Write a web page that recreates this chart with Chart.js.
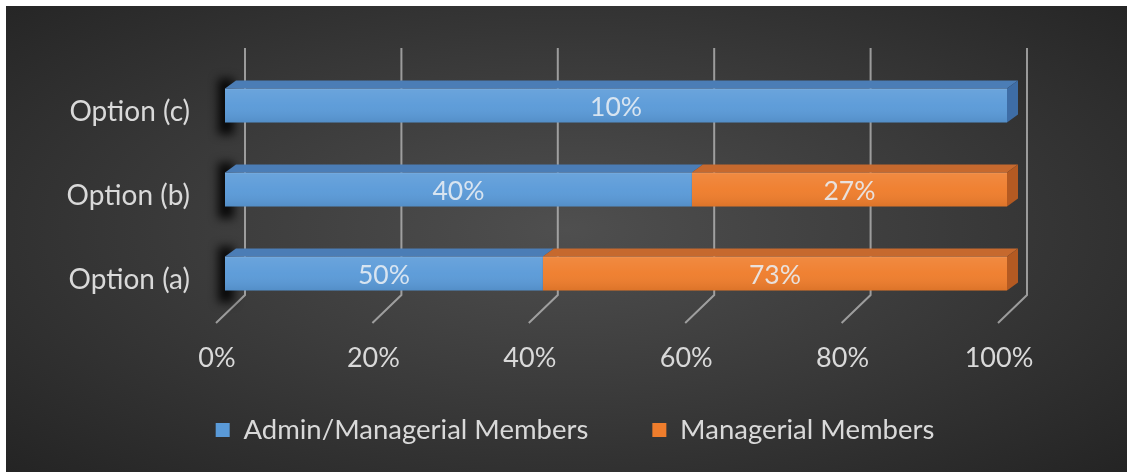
<!DOCTYPE html>
<html>
<head>
<meta charset="utf-8">
<script src="https://cdn.jsdelivr.net/npm/chart.js@4"></script>
<style>
  html, body { margin: 0; padding: 0; background: #ffffff; }
  #wrap {
    position: absolute; left: 6px; top: 6px; width: 1121px; height: 466px;
    background: radial-gradient(ellipse farthest-corner at 50% 48%, #4f4f4f 0%, #3c3c3c 45%, #242424 100%);
  }
  canvas { display: block; }
</style>
</head>
<body>
<div id="wrap"><canvas id="c" width="1121" height="466"></canvas></div>
<script>
// Survey answers per option (listed top to bottom as drawn)
const categories = ['Option (c)', 'Option (b)', 'Option (a)'];
const adminManagerial = [10, 40, 50];
const managerial = [0, 27, 73];
const seriesNames = ['Admin/Managerial Members', 'Managerial Members'];
const xTicks = [0, 20, 40, 60, 80, 100];

// Each row is drawn as a 100% stack of its two answers
const totals = categories.map((_, i) => adminManagerial[i] + managerial[i]);
const adminShare = adminManagerial.map((v, i) => v / totals[i] * 100);
const managerialShare = managerial.map((v, i) => v / totals[i] * 100);
const rawValues = [adminManagerial, managerial];

const FONT = 'Lato';
const TEXT = '#d9d9d9';
const DEPTH_X = 11, DEPTH_Y = 8;          // bar extrusion
const LEGEND_PAD = 64;
const faces = [
  { front: '#5a9ad8', top: '#4b7db6', side: '#3e6da6' },
  { front: '#ef7d2c', top: '#c6692e', side: '#b45a22' }
];

// Back wall grid lines with their slanted floor segments
const wallPlugin = {
  id: 'wall',
  afterLayout(chart) {
    // place the legend row under the floor, centred under the plot
    const lg = chart.legend;
    const h = lg.bottom - lg.top;
    lg.top = 424 - LEGEND_PAD - 13.75;
    lg.bottom = lg.top + h;
    lg.left += 62.5;
    lg.right += 62.5;
  },
  beforeDatasetsDraw(chart) {
    const { ctx, chartArea, scales: { x } } = chart;
    const top = chartArea.top - 15.5;
    const bend = chartArea.bottom - 20.5;
    ctx.save();
    ctx.strokeStyle = 'rgba(190,190,190,0.75)';
    ctx.lineWidth = 2;
    xTicks.forEach(v => {
      const px = x.getPixelForValue(v) + 20;
      ctx.beginPath();
      ctx.moveTo(px, top);
      ctx.lineTo(px, bend);
      ctx.lineTo(px - 29, bend + 28);
      ctx.stroke();
    });
    // soft shadow at the left end of each bar
    const meta = chart.getDatasetMeta(0);
    ctx.filter = 'blur(5px)';
    ctx.fillStyle = 'rgba(0,0,0,0.85)';
    meta.data.forEach(el => {
      const t = el.y - el.height / 2;
      ctx.fillRect(el.base - 7, t - 10, 16, el.height + 22);
    });
    ctx.restore();
  }
};

// Shading, extrusion faces and value labels of the bars
const barPlugin = {
  id: 'bar3d',
  afterDatasetsDraw(chart) {
    const { ctx, scales: { x } } = chart;
    const end = x.getPixelForValue(100);
    ctx.save();
    chart.data.datasets.forEach((ds, di) => {
      const meta = chart.getDatasetMeta(di);
      meta.data.forEach((el, i) => {
        const x0 = Math.min(el.base, el.x), x1 = Math.max(el.base, el.x);
        if (x1 - x0 < 0.5) return;
        const t = el.y - el.height / 2, b = el.y + el.height / 2;
        // front shading
        const g = ctx.createLinearGradient(0, t, 0, b);
        g.addColorStop(0, 'rgba(255,255,255,0.10)');
        g.addColorStop(0.5, 'rgba(255,255,255,0.03)');
        g.addColorStop(1, 'rgba(0,0,0,0.08)');
        ctx.fillStyle = g;
        ctx.fillRect(x0, t, x1 - x0, b - t);
        // top face
        ctx.fillStyle = faces[di].top;
        ctx.beginPath();
        ctx.moveTo(x0, t);
        ctx.lineTo(x0 + DEPTH_X, t - DEPTH_Y);
        ctx.lineTo(x1 + DEPTH_X, t - DEPTH_Y);
        ctx.lineTo(x1, t);
        ctx.closePath();
        ctx.fill();
        ctx.strokeStyle = 'rgba(255,255,255,0.12)';
        ctx.lineWidth = 1;
        ctx.beginPath();
        ctx.moveTo(x0, t + 0.5);
        ctx.lineTo(x1, t + 0.5);
        ctx.stroke();
        // right face on the end of the stack
        if (Math.abs(x1 - end) < 1) {
          ctx.fillStyle = faces[di].side;
          ctx.beginPath();
          ctx.moveTo(x1, t);
          ctx.lineTo(x1 + DEPTH_X, t - DEPTH_Y);
          ctx.lineTo(x1 + DEPTH_X, b - DEPTH_Y);
          ctx.lineTo(x1, b);
          ctx.closePath();
          ctx.fill();
        }
      });
    });
    // value labels
    ctx.font = '26.5px ' + FONT;
    ctx.textAlign = 'center';
    ctx.textBaseline = 'middle';
    ctx.fillStyle = 'rgba(232,238,244,0.88)';
    chart.data.datasets.forEach((ds, di) => {
      const meta = chart.getDatasetMeta(di);
      meta.data.forEach((el, i) => {
        const v = rawValues[di][i];
        if (!v) return;
        ctx.fillText(v + '%', (el.base + el.x) / 2, el.y + 2);
      });
    });
    ctx.restore();
  }
};

new Chart(document.getElementById('c'), {
  type: 'bar',
  data: {
    labels: categories,
    datasets: [
      { label: seriesNames[0], data: adminShare, backgroundColor: faces[0].front },
      { label: seriesNames[1], data: managerialShare, backgroundColor: faces[1].front }
    ]
  },
  options: {
    indexAxis: 'y',
    responsive: false,
    animation: false,
    devicePixelRatio: 1,
    layout: { padding: { left: 12, right: 120, top: 57.5, bottom: 0 } },
    datasets: { bar: { categoryPercentage: 1, barPercentage: 34 / 84, borderWidth: 0 } },
    scales: {
      x: {
        stacked: true, min: 0, max: 100,
        grid: { display: false, drawTicks: false },
        border: { display: false },
        afterBuildTicks: s => { s.ticks = xTicks.map(v => ({ value: v })); },
        afterFit: s => { s.height = 62; },
        ticks: {
          color: TEXT, font: { family: FONT, size: 27 }, padding: 26.3,
          labelOffset: -8, maxRotation: 0, autoSkip: false,
          callback: v => v + '%'
        }
      },
      y: {
        stacked: true,
        grid: { display: false, drawTicks: false },
        border: { display: false },
        afterFit: s => { s.width = 207; },
        ticks: {
          color: TEXT, font: { family: FONT, size: 28 }, padding: 35, labelOffset: 6
        }
      }
    },
    plugins: {
      legend: {
        position: 'bottom',
        maxHeight: 94.5,
        labels: {
          color: TEXT, font: { family: FONT, size: 27.5 },
          boxWidth: 14, boxHeight: 14, padding: LEGEND_PAD
        }
      },
      tooltip: { enabled: false }
    }
  },
  plugins: [wallPlugin, barPlugin]
});
</script>
</body>
</html>
